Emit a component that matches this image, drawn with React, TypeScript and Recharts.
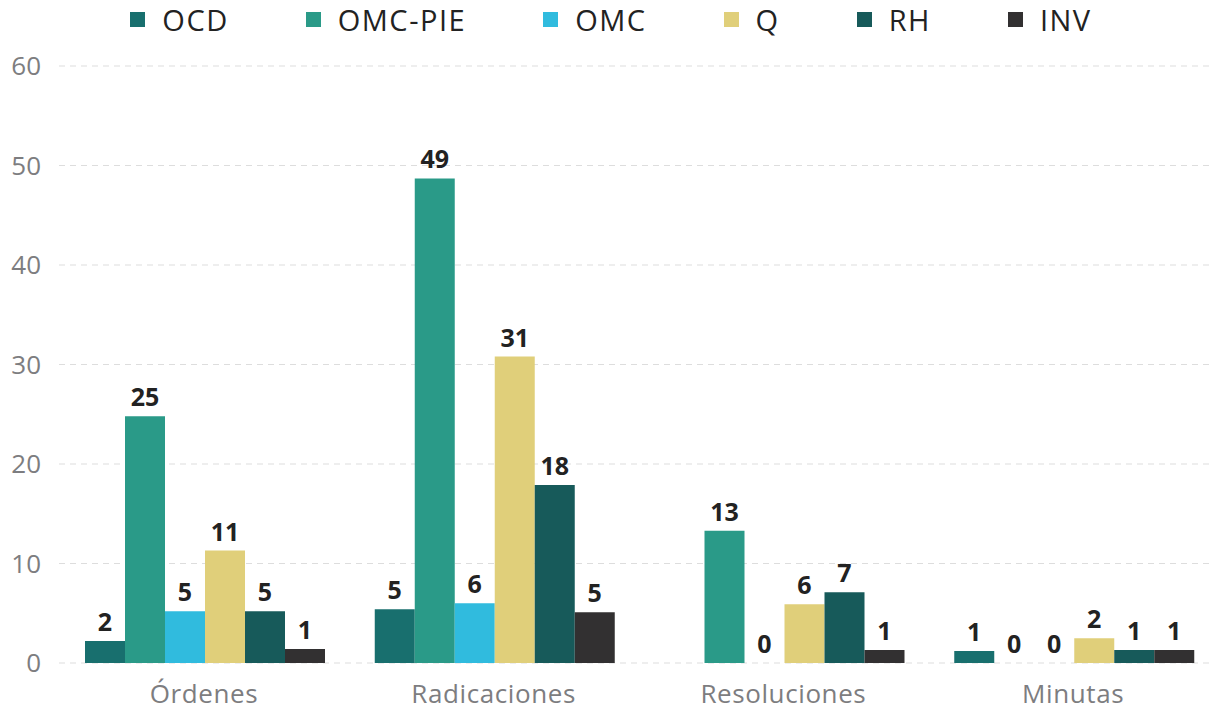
import { BarChart, Bar, XAxis, YAxis, CartesianGrid, LabelList } from 'recharts';

const categories = ['Órdenes', 'Radicaciones', 'Resoluciones', 'Minutas'];

// bar heights
const ocd = [2.2, 5.4, null, 1.2];
const omcPie = [24.8, 48.7, 13.3, 0];
const omc = [5.2, 6.0, 0, 0];
const q = [11.3, 30.8, 5.9, 2.5];
const rh = [5.2, 17.9, 7.1, 1.3];
const inv = [1.4, 5.1, 1.3, 1.3];

// numbers printed above the bars
const ocdLabels = [2, 5, null, 1];
const omcPieLabels = [25, 49, 13, 0];
const omcLabels = [5, 6, 0, 0];
const qLabels = [11, 31, 6, 2];
const rhLabels = [5, 18, 7, 1];
const invLabels = [1, 5, 1, 1];

const yTicks = [0, 10, 20, 30, 40, 50, 60];

const series = [
  { key: 'OCD', values: ocd, labels: ocdLabels, color: '#186f6e' },
  { key: 'OMC-PIE', values: omcPie, labels: omcPieLabels, color: '#2a9a88' },
  { key: 'OMC', values: omc, labels: omcLabels, color: '#30bbde' },
  { key: 'Q', values: q, labels: qLabels, color: '#e0cf7a' },
  { key: 'RH', values: rh, labels: rhLabels, color: '#175a5a' },
  { key: 'INV', values: inv, labels: invLabels, color: '#323031' },
];

const data = categories.map((name, i) => {
  const row: Record<string, any> = { name };
  series.forEach((s) => {
    row[s.key] = s.values[i];
    row[s.key + '_label'] = s.labels[i];
  });
  return row;
});

const FONT = '"Open Sans", "Noto Sans", sans-serif';

const App = () => {
  return (
    <div style={{ position: 'absolute', left: 0, top: 0, width: 1214, height: 711, overflow: 'hidden', background: '#fff', fontFamily: FONT }}>
      <div style={{ position: 'absolute', top: 0, left: 0, width: 1222, display: 'flex', justifyContent: 'center', gap: 77 }}>
        {series.map((s) => (
          <span key={s.key} style={{ display: 'flex', alignItems: 'center', gap: 17, fontSize: 29, letterSpacing: 1.5, color: '#222' }}>
            <span style={{ width: 15, height: 15, background: s.color, display: 'inline-block' }}></span>
            {s.key}
          </span>
        ))}
      </div>
      <div style={{ position: 'absolute', left: 0, top: 0 }}>
        <BarChart
          width={1220}
          height={711}
          data={data}
          margin={{ top: 66, right: 2, left: 0, bottom: 0 }}
          barCategoryGap={26}
          barGap={0}
        >
          <CartesianGrid strokeDasharray="6 5" vertical={false} stroke="#dddddd" />
          <XAxis
            dataKey="name"
            axisLine={false}
            tickLine={false}
            height={48}
            tickMargin={16}
            tick={{ fill: '#7d7d80', fontSize: 26, letterSpacing: 0.6, fontFamily: FONT }}
          />
          <YAxis
            domain={[0, 60]}
            ticks={yTicks}
            width={59}
            axisLine={false}
            tickLine={false}
            tickMargin={12}
            tick={{ fill: '#7d7d80', fontSize: 26, fontFamily: FONT }}
          />
          {series.map((s) => (
            <Bar
              key={s.key}
              dataKey={s.key}
              fill={s.color}
              minPointSize={(v: any) => (v === 0 ? 0.01 : 0)}
              isAnimationActive={false}
            >
              <LabelList
                dataKey={s.key + '_label'}
                position="top"
                offset={10}
                formatter={(v: any) => (v === null || v === undefined ? '' : String(v))}
                style={{ fill: '#222', fontSize: 25, fontWeight: 700, fontFamily: FONT }}
              />
            </Bar>
          ))}
        </BarChart>
      </div>
    </div>
  );
};

export default App;
